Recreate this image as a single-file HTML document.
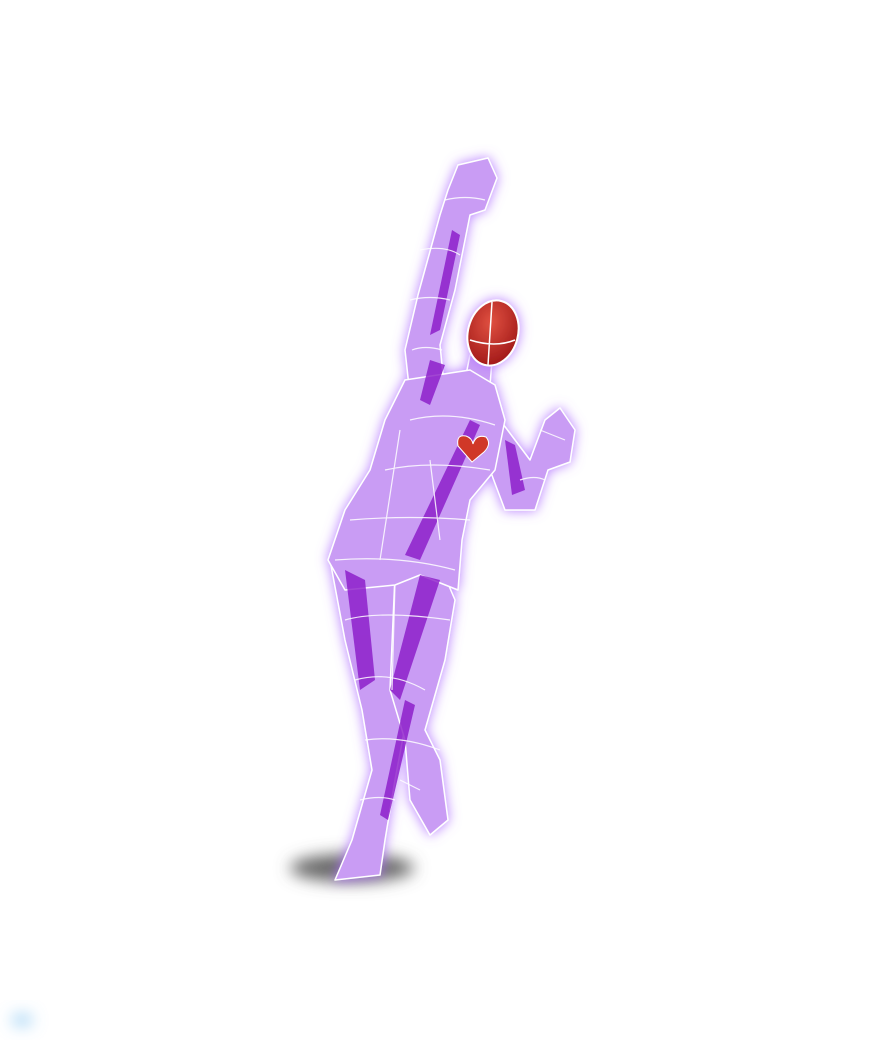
<!DOCTYPE html>
<html><head><meta charset="utf-8"><style>html,body{margin:0;padding:0;background:#fff}svg{display:block}</style></head>
<body>
<svg width="889" height="1054" viewBox="0 0 889 1054">
<defs>
<filter id="glow" x="-30%" y="-30%" width="160%" height="160%">
<feGaussianBlur in="SourceAlpha" stdDeviation="6" result="b"/>
<feFlood flood-color="#b070ff" flood-opacity="0.9"/>
<feComposite in2="b" operator="in" result="g"/>
<feMerge><feMergeNode in="g"/><feMergeNode in="SourceGraphic"/></feMerge>
</filter>
<filter id="blur" x="-100%" y="-200%" width="300%" height="500%"><feGaussianBlur stdDeviation="8"/></filter>
<radialGradient id="headg" cx="40%" cy="35%" r="70%"><stop offset="0" stop-color="#e05040"/><stop offset="1" stop-color="#a01818"/></radialGradient>
</defs>
<ellipse cx="352" cy="868" rx="62" ry="14" fill="#666" filter="url(#blur)"/>
<ellipse cx="22" cy="1020" rx="10" ry="4" fill="#6ab8f0" filter="url(#blur)"/>
<g filter="url(#glow)" stroke="#fff" stroke-width="1.5" stroke-linejoin="round" fill="#c99cf4">
<path d="M458 165 L488 158 L497 178 L485 210 L470 215 L455 290 L440 345 L445 395 L410 395 L405 350 L418 295 L440 215 L448 190 Z"/>
<path d="M500 420 L530 460 L545 420 L560 408 L575 430 L570 462 L548 470 L535 510 L505 510 L490 470 Z"/>
<path d="M330 560 L345 640 L362 710 L372 770 L352 840 L335 880 L380 875 L385 840 L395 780 L410 700 L400 630 L395 580 Z"/>
<path d="M395 575 L440 565 L455 600 L445 660 L425 730 L440 760 L448 820 L430 835 L410 800 L405 740 L390 690 Z"/>
<path d="M470 355 L492 360 L490 385 L465 380 Z"/>
<path d="M405 380 L470 370 L495 385 L505 420 L495 470 L470 500 L462 540 L458 590 L420 575 L395 585 L345 590 L328 560 L345 510 L370 470 L385 420 Z"/>
</g>
<g fill="#8a18c8" opacity="0.8">
<path d="M452 230 L460 235 L440 330 L430 335 Z"/>
<path d="M430 360 L445 365 L430 405 L420 400 Z"/>
<path d="M470 420 L480 425 L420 560 L405 555 Z"/>
<path d="M345 570 L365 580 L375 680 L360 690 Z"/>
<path d="M420 575 L440 580 L400 700 L390 690 Z"/>
<path d="M405 700 L415 705 L388 820 L380 815 Z"/>
<path d="M505 440 L515 445 L525 490 L512 495 Z"/>
</g>
<g stroke="#fff" stroke-width="1.2" fill="none" opacity="0.85">
<path d="M410 420 Q450 410 495 425"/><path d="M385 470 Q430 460 490 470"/><path d="M350 520 Q410 515 470 520"/>
<path d="M335 560 Q400 555 455 570"/><path d="M345 620 Q380 610 450 620"/><path d="M355 680 Q390 670 425 690"/>
<path d="M365 740 Q400 735 440 750"/><path d="M360 800 Q380 795 395 800"/><path d="M420 250 Q445 245 460 255"/>
<path d="M410 300 Q430 295 450 300"/><path d="M430 460 L440 540"/><path d="M400 430 L380 560"/>
<path d="M445 200 Q465 195 485 200"/><path d="M412 350 Q425 345 442 350"/><path d="M395 585 L392 690"/>
<path d="M520 480 Q535 475 545 480"/><path d="M540 430 L565 440"/><path d="M400 780 L420 790"/>
</g>
<g filter="url(#glow)">
<ellipse cx="493" cy="333" rx="25" ry="33" transform="rotate(15 493 333)" fill="url(#headg)" stroke="#fff" stroke-width="2"/>
<path d="M470 340 Q495 348 515 340 M492 302 L488 365" stroke="#fff" stroke-width="1.5" fill="none"/>
</g>
<path d="M472 462 L458 446 Q456 434 466 436 Q472 438 473 444 Q476 434 486 437 Q492 444 484 452 Z" fill="#d03828" stroke="#fff" stroke-width="1"/>
</svg>
</body></html>
